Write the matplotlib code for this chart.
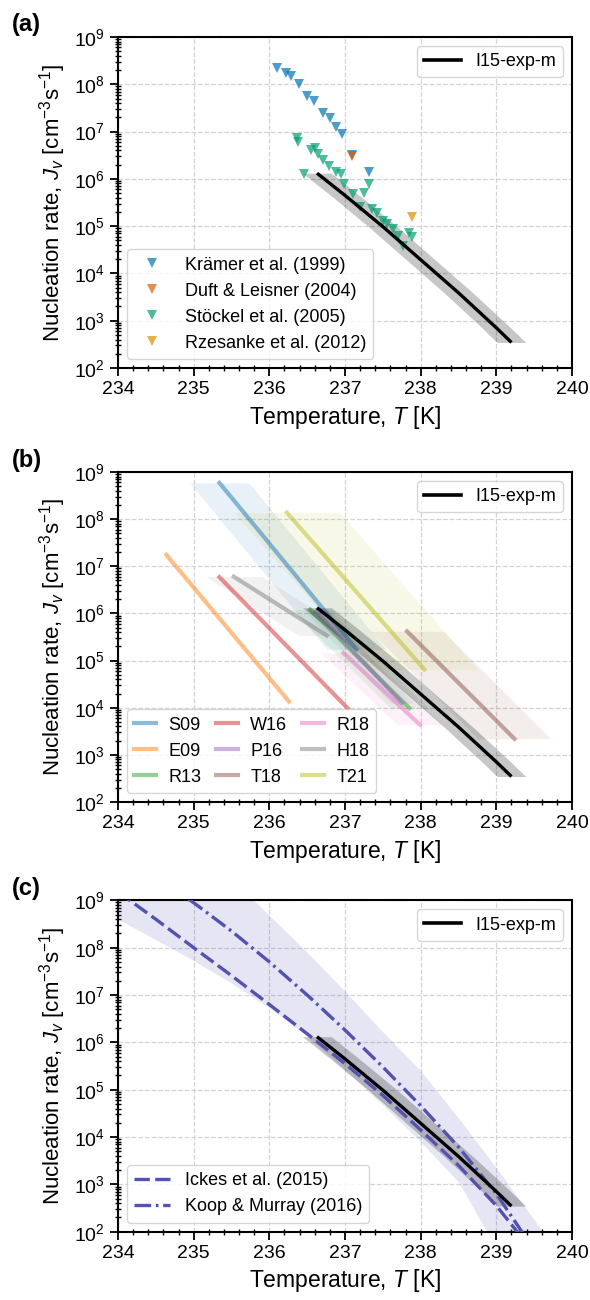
import numpy as np
import matplotlib
matplotlib.use('Agg')
import matplotlib.pyplot as plt
from matplotlib.ticker import MultipleLocator, LogLocator, NullFormatter
from matplotlib.lines import Line2D

plt.rcParams['font.family'] = ['Liberation Sans', 'DejaVu Sans']
plt.rcParams['mathtext.fontset'] = 'custom'
plt.rcParams['mathtext.rm'] = 'Liberation Sans'
plt.rcParams['mathtext.it'] = 'Liberation Sans:italic'
plt.rcParams['mathtext.bf'] = 'Liberation Sans:bold'

# ---------------- data ----------------
# I15-exp-m parameterisation (log10 J)
i15_T = [236.63, 237.0, 237.5, 238.0, 238.5, 239.0, 239.2]
i15_logJ = [6.12, 5.65, 4.99, 4.29, 3.59, 2.85, 2.54]
i15_dT = 0.19

# panel (a): measurements (log10 J)
kramer_T = [236.105, 236.215, 236.281, 236.391, 236.501, 236.594, 236.712,
            236.800, 236.880, 236.955, 237.096, 237.320]
kramer_logJ = [8.34, 8.23, 8.18, 8.01, 7.75, 7.65, 7.40, 7.28, 7.10, 6.95,
               6.51, 6.14]
duft_T = [237.096]
duft_logJ = [6.48]
stockel_T = [236.369, 236.382, 236.461, 236.545, 236.602, 236.646, 236.704,
             236.792, 236.875, 236.941, 236.985, 237.100, 237.254, 237.320,
             237.197, 237.351, 237.417, 237.496, 237.558, 237.628, 237.703,
             237.769, 237.844, 237.879]
stockel_logJ = [6.86, 6.77, 6.10, 6.60, 6.66, 6.52, 6.39, 6.28, 6.15, 6.10,
                5.89, 5.68, 5.71, 5.89, 5.41, 5.36, 5.27, 5.10, 5.05, 4.95,
                4.79, 4.57, 4.86, 4.76]
rzes_T = [237.888]
rzes_logJ = [5.20]

# panel (b): parameterisations
b_labels = ['S09', 'E09', 'R13', 'W16', 'P16', 'T18', 'R18', 'H18', 'T21']
b_T_start = [235.34, 234.64, 236.54, 235.34, 236.62, 237.82, 236.98, 235.53, 236.23]
b_T_end = [237.15, 236.26, 237.85, 237.04, 237.75, 239.24, 237.99, 236.76, 238.05]
b_logJ_start = [8.77, 7.24, 6.08, 6.77, 6.04, 5.62, 5.16, 6.78, 8.14]
b_logJ_end = [5.24, 4.13, 3.99, 3.98, 4.10, 3.34, 3.64, 5.53, 4.81]
b_dT = [0.39, 0.0, 0.25, 0.0, 0.15, 0.48, 0.30, 0.37, 0.70]
b_colors = ['tab:blue', 'tab:orange', 'tab:green', 'tab:red', 'tab:purple',
            'tab:brown', 'tab:pink', 'tab:gray', 'tab:olive']

# panel (c): CNT curves
ickes_T = [234.0, 234.5, 235.0, 235.5, 236.0, 236.5, 237.0, 237.5, 238.0, 238.5, 239.0, 239.4]
ickes_logJ = [9.18, 8.60, 8.00, 7.41, 6.80, 6.18, 5.55, 4.88, 4.15, 3.40, 2.55, 1.75]
koop_T = [234.0, 234.5, 235.0, 235.5, 236.0, 236.5, 237.0, 237.5, 238.0, 238.5, 239.0, 239.4]
koop_logJ = [10.05, 9.50, 8.95, 8.35, 7.70, 7.00, 6.26, 5.48, 4.66, 3.79, 2.80, 1.85]
band_T = [234.0, 234.5, 235.0, 235.5, 236.0, 236.5, 237.0, 237.5, 238.0, 238.5, 239.0, 239.5, 239.7]
band_lo = [8.60, 8.17, 7.73, 7.25, 6.73, 6.13, 5.42, 4.68, 3.90, 3.05, 1.65, 0.5, 0.0]
band_hi = [12.0, 11.2, 10.4, 9.45, 8.68, 7.90, 7.08, 6.22, 5.40, 4.40, 3.35, 2.25, 1.80]
cnt_color = '#5252B0'

# ---------------- figure ----------------
fig = plt.figure(figsize=(5.9, 13), dpi=100)
positions = [(0.2, 0.71692, 0.7695, 0.25462),
             (0.2, 0.38308, 0.7695, 0.25385),
             (0.2, 0.05254, 0.7695, 0.25490)]
axes = [fig.add_axes(p) for p in positions]


def style(ax):
    ax.set_xlim(234, 240)
    ax.set_yscale('log')
    ax.set_ylim(1e2, 1e9)
    ax.xaxis.set_major_locator(MultipleLocator(1))
    ax.xaxis.set_minor_locator(MultipleLocator(0.2))
    ax.yaxis.set_major_locator(LogLocator(base=10, numticks=20))
    ax.yaxis.set_minor_locator(LogLocator(base=10, subs=np.arange(2, 10), numticks=20))
    ax.yaxis.set_minor_formatter(NullFormatter())
    ax.tick_params(which='major', direction='out', length=6, width=1.3, labelsize=14)
    ax.tick_params(which='minor', direction='inout', length=5, width=1.0)
    ax.grid(True, which='major', ls='--', color='#d3d3d3', lw=0.9)
    ax.set_axisbelow(True)
    for s in ax.spines.values():
        s.set_linewidth(1.5)
    ax.set_xlabel(r'Temperature, $T$ [K]', fontsize=16.5)
    ax.set_ylabel(r'Nucleation rate, $J_v$ [cm$^{-3}$s$^{-1}$]', fontsize=16)


def draw_i15(ax):
    J = 10 ** np.array(i15_logJ)
    T = np.array(i15_T)
    ax.fill_betweenx(J, T - i15_dT, T + i15_dT, color='k', alpha=0.22, lw=0, zorder=3)
    ax.plot(T, J, color='k', lw=2.4, zorder=5, solid_capstyle='butt')
    leg = ax.legend([Line2D([], [], color='k', lw=2.6)], ['I15-exp-m'],
                    loc='upper right', fontsize=13)
    ax.add_artist(leg)


for ax in axes:
    style(ax)

# (a)
ax = axes[0]
draw_i15(ax)
mk = dict(marker='v', ls='none', ms=6.5, mew=0, alpha=0.7, zorder=4)
h1, = ax.plot(kramer_T, 10 ** np.array(kramer_logJ), color='#0173b2', **mk)
h2, = ax.plot(duft_T, 10 ** np.array(duft_logJ), color='#d55e00', **mk)
h3, = ax.plot(stockel_T, 10 ** np.array(stockel_logJ), color='#029e73', **mk)
h4, = ax.plot(rzes_T, 10 ** np.array(rzes_logJ), color='#de8f05', **mk)
ax.legend([h1, h2, h3, h4],
          ['Krämer et al. (1999)', 'Duft & Leisner (2004)',
           'Stöckel et al. (2005)', 'Rzesanke et al. (2012)'],
          loc='lower left', fontsize=13)

# (b)
ax = axes[1]
handles = []
for lab, ts, te, js, je, dt, c in zip(b_labels, b_T_start, b_T_end, b_logJ_start,
                                      b_logJ_end, b_dT, b_colors):
    J = 10 ** np.array([js, je])
    T = np.array([ts, te])
    if dt > 0:
        ax.fill_betweenx(J, T - dt, T + dt, color=c, alpha=0.1, lw=0, zorder=1)
    h, = ax.plot(T, J, color=c, lw=3, alpha=0.5, zorder=2, label=lab)
    handles.append(h)
draw_i15(ax)
ax.legend(handles=handles, loc='lower left', ncol=3, fontsize=13,
          handlelength=1.2, columnspacing=0.8, handletextpad=0.7)

# (c)
ax = axes[2]
ax.fill_between(band_T, 10 ** np.array(band_lo), 10 ** np.array(band_hi),
                color=cnt_color, alpha=0.15, lw=0, zorder=1)
hi, = ax.plot(ickes_T, 10 ** np.array(ickes_logJ), color=cnt_color, lw=2.4,
              ls=(0, (4.6, 1.6)), zorder=4)
hk, = ax.plot(koop_T, 10 ** np.array(koop_logJ), color=cnt_color, lw=2.4,
              ls=(0, (5.0, 1.4, 0.8, 1.4)), zorder=4)
draw_i15(ax)
ax.legend([hi, hk], ['Ickes et al. (2015)', 'Koop & Murray (2016)'],
          loc='lower left', fontsize=13)

for lab, y in zip(['(a)', '(b)', '(c)'], [25, 460, 888]):
    fig.text(12 / 590, 1 - y / 1300, lab, fontsize=17, fontweight='bold', va='center', ha='left')

fig.savefig('out.png', dpi=100)
